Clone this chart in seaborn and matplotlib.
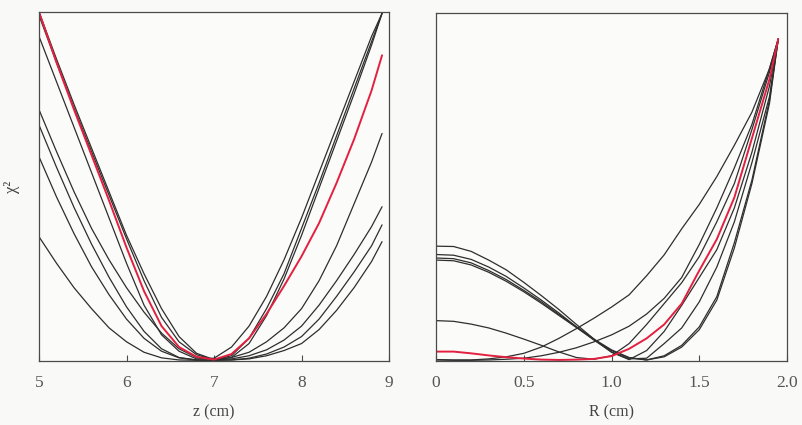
import numpy as np
import pandas as pd
import matplotlib
matplotlib.use("Agg")
import matplotlib.pyplot as plt
import seaborn as sns

# left panel: chi^2 versus z (cm)
z_cm = [5.0, 5.2, 5.4, 5.6, 5.8, 6.0, 6.2, 6.4, 6.6, 6.8, 7.0,
        7.2, 7.4, 7.6, 7.8, 8.0, 8.2, 8.4, 8.6, 8.8, 8.92]
z_red = [100, 85.5, 72, 59, 46, 32.5, 20, 10, 4, 1.2, 0.4,
         2.0, 6.5, 13.5, 21.5, 30, 39.5, 51, 63.5, 77.5, 87.6]
z_k1 = [100, 86.5, 73.5, 61, 48.5, 36, 25, 15, 7, 2.2, 0.4,
        1.5, 6.5, 15, 25, 38, 51, 64.5, 78, 91.5, 99.6]
z_k2 = [99, 85.5, 72.5, 60, 47.5, 35, 23, 12.5, 5.5, 1.8, 0.3,
        1.0, 5, 13, 23.5, 36, 49.5, 63, 76.5, 90.5, 99.6]
z_k3 = [93, 80, 67, 54, 41, 28, 16, 7.5, 2.8, 0.6, 0.8,
        4, 10, 18.5, 29, 41, 54, 67, 80, 93, 99.6]
z_k4 = [72, 60, 48.5, 38, 29, 21, 14, 8, 3.5, 1.0, 0.5,
        1.0, 2.5, 5.5, 9.5, 15, 23, 33, 45, 57, 65.2]
z_k5 = [67.6, 55.5, 44, 33.5, 24, 15.5, 8.5, 3.5, 1.0, 0.3, 0.3,
        0.6, 1.5, 3.2, 6.0, 10, 16, 23, 30.5, 38.5, 44.2]
z_k6 = [58.5, 47, 36.5, 27, 19, 12, 6.5, 2.8, 0.9, 0.3, 0.2,
        0.3, 0.8, 2.0, 4.0, 7.0, 12.0, 18.5, 25.5, 33, 39]
z_k7 = [35.6, 28, 21, 15, 9.5, 5.5, 2.5, 0.9, 0.3, 0.2, 0.2,
        0.3, 0.6, 1.5, 3, 5.0, 9, 14.5, 21, 28.5, 34.2]

# right panel: chi^2 versus R (cm)
r_cm = [0.0, 0.1, 0.2, 0.3, 0.4, 0.5, 0.6, 0.7, 0.8, 0.9, 1.0,
        1.1, 1.2, 1.3, 1.4, 1.5, 1.6, 1.7, 1.8, 1.9, 1.95]
r_red = [2.7, 2.7, 2.2, 1.6, 1.1, 0.7, 0.4, 0.3, 0.4, 0.6, 1.4,
         3.5, 6.5, 10.5, 16.5, 26, 35, 47, 64, 81, 92.5]
r_a = [0.4, 0.3, 0.3, 0.6, 1.2, 2.2, 4, 6.5, 9.3, 12.3, 15.5,
       19, 24.5, 30.5, 38, 45, 53, 62, 71.5, 84, 92.5]
r_b = [0.3, 0.2, 0.2, 0.3, 0.5, 0.8, 1.5, 2.5, 3.8, 5.5, 7.5,
       10, 13.5, 18, 24, 33.5, 44, 55.5, 68, 84, 92.5]
r_c = [11.6, 11.4, 10.6, 9.5, 8.0, 6.3, 4.5, 2.6, 1.0, 0.5, 1.5,
       5, 10.5, 16.5, 22.5, 30, 40, 51, 66.5, 83, 92.5]
r_g1 = [33.0, 32.9, 31.5, 29.0, 26.2, 22.6, 18.8, 14.8, 10.5, 6.3, 2.5,
        0.4, 3, 8.5, 16, 24, 32, 44, 60, 79, 92.5]
r_g2 = [30.6, 30.4, 29.2, 27.0, 24.3, 21.0, 17.5, 13.8, 9.8, 6.0, 2.6,
        0.6, 0.8, 5, 9.5, 17, 27, 40, 57, 76, 92.5]
r_g3 = [29.6, 29.4, 28.2, 26.0, 23.4, 20.3, 17.0, 13.4, 9.8, 6.3, 3.2,
        1.0, 0.3, 1.5, 4.5, 9.8, 18.5, 34, 52, 75, 92.5]
r_g4 = [29.0, 28.8, 27.6, 25.5, 22.9, 19.9, 16.6, 13.1, 9.6, 6.1, 3.0,
        0.9, 0.3, 1.2, 4.0, 9.0, 17.5, 32.5, 51, 74, 92.5]

z_ticks = [5, 6, 7, 8, 9]
r_ticks = [0, 0.5, 1.0, 1.5, 2.0]
r_ticklabels = ["0", "0.5", "1.0", "1.5", "2.0"]

BLACK = "#2e2e2e"
RED = "#e3203f"
FRAME = "#4a4a4a"


def long_form(x, curves):
    rows = []
    for name, ys in curves.items():
        for xv, yv in zip(x, ys):
            rows.append({"x": xv, "y": yv, "curve": name})
    return pd.DataFrame(rows)


sns.set_theme(style="white")
plt.rcParams["font.family"] = ["Liberation Serif", "DejaVu Serif"]

fig = plt.figure(figsize=(8.03, 4.25), dpi=100)
fig.patch.set_facecolor("#f9f9f7")
ax1 = fig.add_axes([0.0486, 0.1506, 0.4359, 0.8212])
ax2 = fig.add_axes([0.5430, 0.1506, 0.4371, 0.8188])

left = long_form(z_cm, {"k1": z_k1, "k2": z_k2, "k3": z_k3, "k4": z_k4,
                        "k5": z_k5, "k6": z_k6, "k7": z_k7, "red": z_red})
right = long_form(r_cm, {"a": r_a, "b": r_b, "c": r_c, "g1": r_g1,
                         "g2": r_g2, "g3": r_g3, "g4": r_g4, "red": r_red})

for ax, df in [(ax1, left), (ax2, right)]:
    names = list(dict.fromkeys(df["curve"]))
    pal = {n: (RED if n == "red" else BLACK) for n in names}
    sns.lineplot(data=df[df["curve"] != "red"], x="x", y="y", hue="curve",
                 palette=pal, estimator=None, sort=False, linewidth=0.9,
                 legend=False, ax=ax)
    sns.lineplot(data=df[df["curve"] == "red"], x="x", y="y", color=RED,
                 estimator=None, sort=False, linewidth=1.4, legend=False, ax=ax)
    ax.set_facecolor("#fbfbfa")
    ax.set_ylim(0, 100)
    ax.set_yticks([])
    for s in ax.spines.values():
        s.set_color(FRAME)
        s.set_linewidth(0.9)
    ax.tick_params(axis="x", direction="in", length=4, width=0.8,
                   colors=FRAME, labelcolor="#555555", labelsize=12.5,
                   pad=10, bottom=True)

ax1.set_xlim(5, 9)
ax1.set_xticks(z_ticks)
ax1.set_xlabel("z (cm)", fontsize=11.5, color="#444444", labelpad=10)
ax1.set_ylabel("χ²", fontsize=12, color="#444444", labelpad=14)

ax2.set_xlim(0, 2.0)
ax2.set_xticks(r_ticks)
ax2.set_xticklabels(r_ticklabels)
ax2.set_xlabel("R (cm)", fontsize=11.5, color="#444444", labelpad=10)
ax2.set_ylabel("")

fig.savefig("out.png", dpi=100, facecolor=fig.get_facecolor())
